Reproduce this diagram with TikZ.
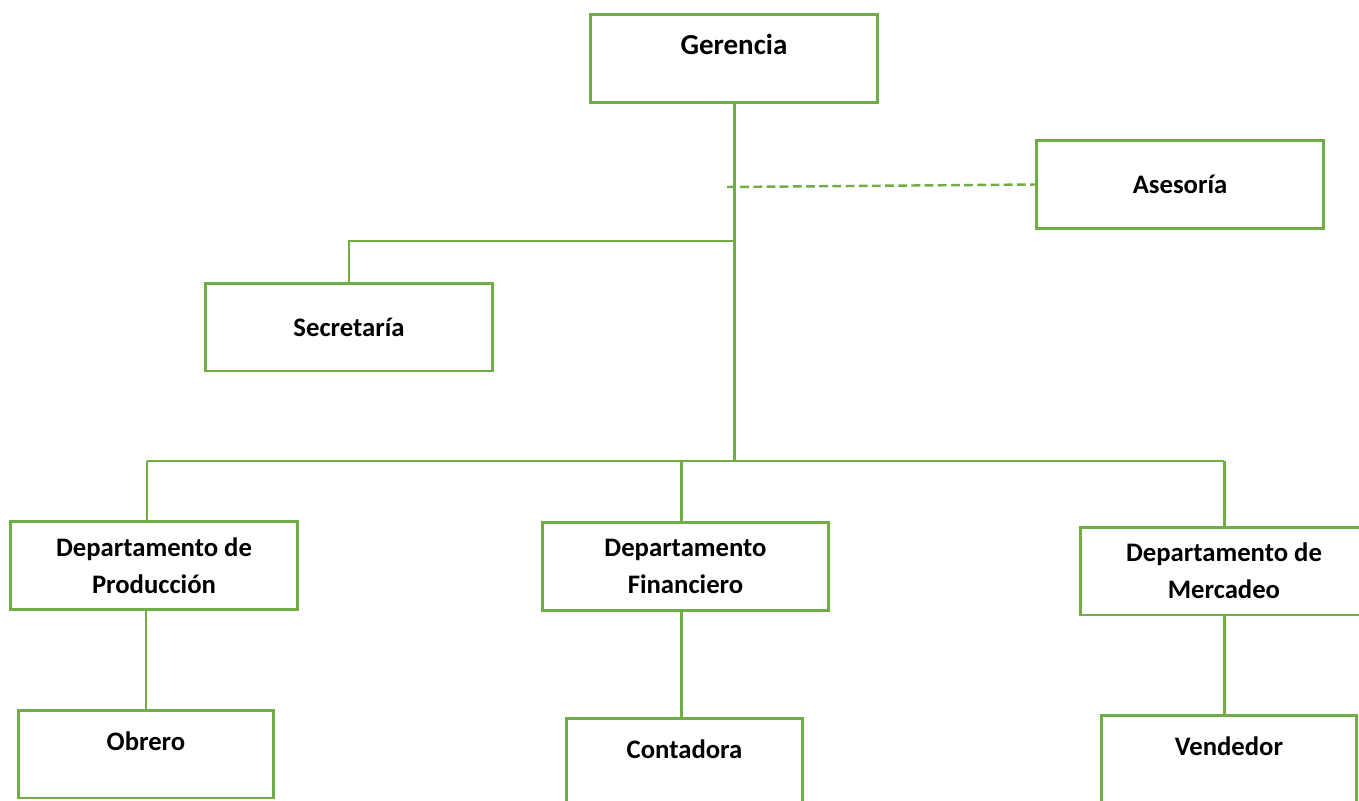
\documentclass[tikz,border=0pt]{standalone}
\usepackage{fontspec}
\setmainfont{Carlito}
\definecolor{orggreen}{HTML}{70AD47}
\begin{document}
\begin{tikzpicture}[x=0.02cm, y=-0.02cm,
    box/.style={draw=orggreen, line width=1.7pt, minimum width=5.74cm, minimum height=1.76cm,
      inner sep=2pt, align=center, font=\fontsize{15.2}{21}\selectfont\bfseries},
    boxtop/.style={box, text height=11pt, text depth=15.5pt},
    link/.style={draw=orggreen, line width=1.7pt},
    advice/.style={draw=orggreen, line width=1.4pt, dash pattern=on 5pt off 2.5pt}]
        \useasboundingbox (0,0) rectangle (1359,801);
        \node [boxtop, font=\fontsize{16.5}{21}\selectfont\bfseries, text depth=15pt] (gerencia) at (734, 58.5) {Gerencia};
        \node [box] (asesoria) at (1180, 184.5) {Asesoría};
        \node [box] (secretaria) at (349, 327) {Secretaría};
        \node [box] (prod) at (154, 565.5) {Departamento de\\Producción};
        \node [box] (fin) at (685.5, 566.5) {Departamento\\Financiero};
        \node [box] (merc) at (1224, 571) {Departamento de\\Mercadeo};
        \node [boxtop, minimum width=5.1cm] (obrero) at (146, 754) {Obrero};
        \node [boxtop, minimum width=4.72cm] (contadora) at (684.5, 762) {Contadora};
        \node [boxtop, minimum width=5.12cm] (vendedor) at (1229, 759) {Vendedor};
        \coordinate (dash) at (727, 187);
        \coordinate (hub) at (734, 241);
        \coordinate (bus) at (734, 461);
        \coordinate (busL) at (147, 461);
        \coordinate (busM) at (681, 461);
        \coordinate (busR) at (1224, 461);
        \draw [link] (gerencia.south) -- (bus);
        \draw [advice] (dash) -- (asesoria.west);
        \draw [link] (hub) -| (secretaria.north);
        \draw [link] (busL) -- (busR);
        \draw [link] (busL) -- (busL |- prod.north);
        \draw [link] (busM) -- (busM |- fin.north);
        \draw [link] (busR) -- (merc.north);
        \draw [link] (obrero.north) -- (obrero.north |- prod.south);
        \draw [link] (busM |- fin.south) -- (busM |- contadora.north);
        \draw [link] (merc.south) -- (merc.south |- vendedor.north);
    \end{tikzpicture}
\end{document}
